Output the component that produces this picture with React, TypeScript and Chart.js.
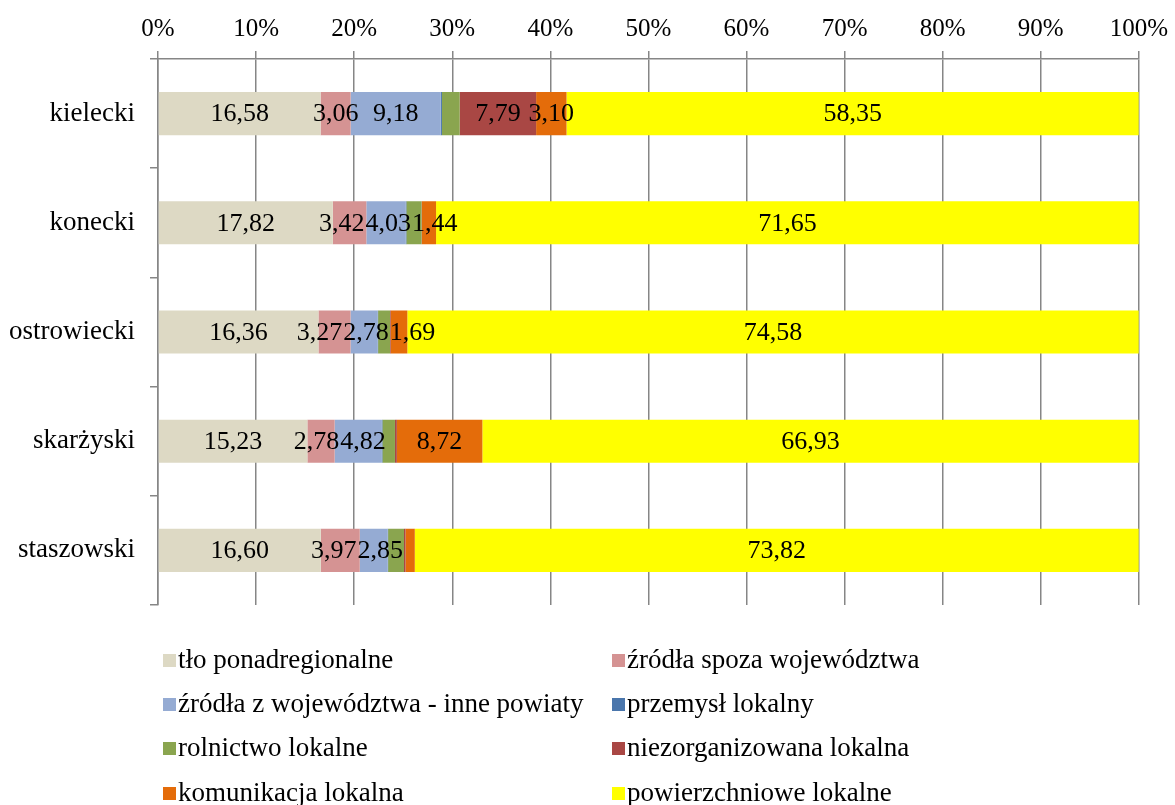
import React, { useEffect, useRef } from "react";
import { Chart, registerables } from "chart.js";

Chart.register(...registerables);

const categories = ["kielecki", "konecki", "ostrowiecki", "skarżyski", "staszowski"];

const tloPonadregionalne = [16.58, 17.82, 16.36, 15.23, 16.6];
const zrodlaSpoza = [3.06, 3.42, 3.27, 2.78, 3.97];
const zrodlaZWojewodztwa = [9.18, 4.03, 2.78, 4.82, 2.85];
const przemyslLokalny = [0.13, 0.05, 0.03, 0.05, 0.04];
const rolnictwoLokalne = [1.81, 1.55, 1.22, 1.28, 1.62];
const niezorganizowanaLokalna = [7.79, 0.04, 0.07, 0.19, 0.15];
const komunikacjaLokalna = [3.1, 1.44, 1.69, 8.72, 0.95];
const powierzchnioweLokalne = [58.35, 71.65, 74.58, 66.93, 73.82];

const seriesNames = [
  "tło ponadregionalne",
  "źródła spoza województwa",
  "źródła z województwa - inne powiaty",
  "przemysł lokalny",
  "rolnictwo lokalne",
  "niezorganizowana lokalna",
  "komunikacja lokalna",
  "powierzchniowe lokalne",
];
const seriesValues = [
  tloPonadregionalne,
  zrodlaSpoza,
  zrodlaZWojewodztwa,
  przemyslLokalny,
  rolnictwoLokalne,
  niezorganizowanaLokalna,
  komunikacjaLokalna,
  powierzchnioweLokalne,
];
const seriesColors = [
  "#DDD9C4",
  "#D59393",
  "#95ABD3",
  "#4A76AC",
  "#8AA54F",
  "#A94744",
  "#E46C0A",
  "#FFFF00",
];
const labelledSeries = [true, true, true, false, false, true, true, true];
const labelMinValue = 1;

const xTickValues = [0, 10, 20, 30, 40, 50, 60, 70, 80, 90, 100];

const FONT = "'Liberation Serif', 'Times New Roman', serif";

const fmt = (v: number) => v.toFixed(2).replace(".", ",");

const dataLabelPlugin = {
  id: "dataLabels",
  afterDatasetsDraw(chart: any) {
    const ctx = chart.ctx;
    ctx.save();
    ctx.font = `26px ${FONT}`;
    ctx.fillStyle = "#000";
    ctx.textAlign = "center";
    ctx.textBaseline = "middle";
    const rowsOfLabels: any[][] = categories.map(() => []);
    chart.data.datasets.forEach((ds: any, i: number) => {
      if (!labelledSeries[i]) return;
      const meta = chart.getDatasetMeta(i);
      meta.data.forEach((bar: any, j: number) => {
        const v = seriesValues[i][j];
        if (v < labelMinValue) return;
        const text = fmt(v);
        rowsOfLabels[j].push({
          text,
          x: (bar.x + bar.base) / 2,
          y: bar.y + 1,
          w: ctx.measureText(text).width,
        });
      });
    });
    const gap = 1;
    rowsOfLabels.forEach((row) => {
      row.sort((a, b) => a.x - b.x);
      for (let it = 0; it < 100; it++) {
        let moved = false;
        for (let k = 0; k < row.length - 1; k++) {
          const a = row[k];
          const b = row[k + 1];
          const ov = a.x + a.w / 2 + gap - (b.x - b.w / 2);
          if (ov > 0.01) {
            a.x -= ov / 2;
            b.x += ov / 2;
            moved = true;
          }
        }
        if (!moved) break;
      }
      row.forEach((l) => ctx.fillText(l.text, l.x, l.y));
    });
    ctx.restore();
  },
};

const legendPlugin = {
  id: "customLegend",
  afterDraw(chart: any) {
    const ctx = chart.ctx;
    const cols = [163, 612];
    const rows = [660, 704, 748, 793];
    ctx.save();
    ctx.font = `27px ${FONT}`;
    ctx.textBaseline = "middle";
    ctx.textAlign = "left";
    seriesNames.forEach((name, i) => {
      const cx = cols[i % 2];
      const cy = rows[Math.floor(i / 2)];
      ctx.fillStyle = seriesColors[i];
      ctx.fillRect(cx, cy - 6, 13, 13);
      ctx.fillStyle = "#000";
      ctx.fillText(name, cx + 15, cy + 1);
    });
    ctx.restore();
  },
};

export default function App() {
  const ref = useRef<HTMLCanvasElement | null>(null);
  useEffect(() => {
    if (!ref.current) return;
    const chart = new Chart(ref.current, {
      type: "bar",
      data: {
        labels: categories,
        datasets: seriesNames.map((name, i) => ({
          label: name,
          data: seriesValues[i],
          backgroundColor: seriesColors[i],
          borderWidth: 0,
          categoryPercentage: 1,
          barPercentage: 0.395,
        })),
      },
      options: {
        indexAxis: "y",
        responsive: false,
        animation: false,
        layout: { padding: { left: 0, right: 32, top: 0, bottom: 200 } },
        plugins: {
          legend: { display: false },
          tooltip: { enabled: false },
        },
        scales: {
          x: {
            position: "top",
            stacked: true,
            min: 0,
            max: 100,
            afterBuildTicks(scale: any) {
              scale.ticks = xTickValues.map((v) => ({ value: v }));
            },
            afterFit(scale: any) {
              scale.height = 59;
            },
            ticks: {
              callback: (v: any) => `${v}%`,
              font: { family: FONT, size: 25 },
              color: "#000",
              padding: 7,
              maxRotation: 0,
            },
            grid: {
              color: "#868686",
              lineWidth: 1.5,
              tickLength: 8,
              drawOnChartArea: true,
              drawTicks: true,
            },
            border: { color: "#868686", width: 1.5 },
          },
          y: {
            stacked: true,
            afterFit(scale: any) {
              scale.width = 158;
            },
            ticks: {
              font: { family: FONT, size: 27 },
              color: "#000",
              padding: 15,
            },
            grid: {
              color: "#868686",
              lineWidth: 1.5,
              tickLength: 8,
              drawOnChartArea: false,
              drawTicks: true,
              offset: true,
            },
            border: { color: "#868686", width: 1.5 },
          },
        },
      },
      plugins: [dataLabelPlugin, legendPlugin],
    } as any);
    return () => chart.destroy();
  }, []);
  return (
    <div style={{ position: "fixed", left: 0, top: 0, width: 1175, height: 805, background: "#fff" }}>
      <canvas ref={ref} width={1175} height={805} style={{ width: 1175, height: 805 }} />
    </div>
  );
}
